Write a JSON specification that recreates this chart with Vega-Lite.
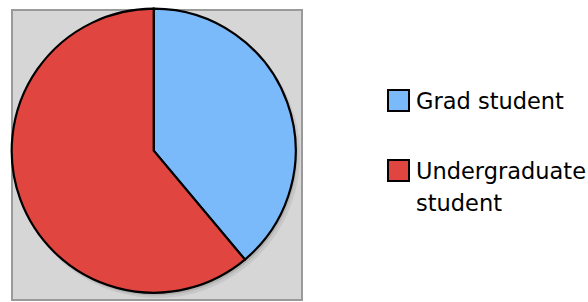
{
  "$schema": "https://vega.github.io/schema/vega-lite/v6.json",
  "width": 290,
  "height": 290,
  "autosize": {"type": "none"},
  "padding": {"left": 12, "top": 10, "right": 286, "bottom": 2},
  "background": "white",
  "view": {"fill": "#d6d6d6", "stroke": "#9a9a9a", "strokeWidth": 2},
  "config": {
    "style": {"guide-label": {"lineHeight": 32, "dy": 8}}
  },
  "data": {
    "values": [
      {"group": "Grad student", "share": 38.9, "order": 1},
      {"group": "Undergraduate student", "share": 61.1, "order": 2}
    ]
  },
  "layer": [
    {
      "mark": {"type": "arc", "outerRadius": 143, "xOffset": 0, "yOffset": 0, "color": "#bdbdbd", "opacity": 0.6},
      "encoding": {
        "theta": {"field": "share", "type": "quantitative", "stack": true},
        "order": {"field": "order"}
      }
    },
    {
      "mark": {"type": "arc", "outerRadius": 142, "xOffset": -1.5, "yOffset": -1.5, "color": "#a8a8a8", "opacity": 0.7},
      "encoding": {
        "theta": {"field": "share", "type": "quantitative", "stack": true},
        "order": {"field": "order"}
      }
    },
    {
      "mark": {"type": "arc", "outerRadius": 142, "xOffset": -3.3, "yOffset": -4.3, "stroke": "black", "strokeWidth": 2.2, "strokeJoin": "miter"},
      "encoding": {
        "theta": {"field": "share", "type": "quantitative", "stack": true},
        "order": {"field": "order"},
        "color": {
          "field": "group",
          "type": "nominal",
          "scale": {"domain": ["Grad student", "Undergraduate student"], "range": ["#7bbafa", "#e0463f"]},
          "legend": {
            "title": null,
            "orient": "none",
            "legendX": 375,
            "legendY": 79,
            "padding": 0,
            "symbolType": "square",
            "symbolSize": 441,
            "symbolStrokeColor": "black",
            "symbolStrokeWidth": 2,
            "symbolOpacity": 1,
            "labelFont": "DejaVu Sans",
            "labelFontSize": 22.5,
            "labelColor": "black",
            "labelBaseline": "alphabetic",
            "labelOffset": 6,
            "labelLimit": 300,
            "rowPadding": 41,
            "labelExpr": "datum.label == 'Undergraduate student' ? ['Undergraduate', 'student'] : datum.label"
          }
        }
      }
    }
  ]
}
